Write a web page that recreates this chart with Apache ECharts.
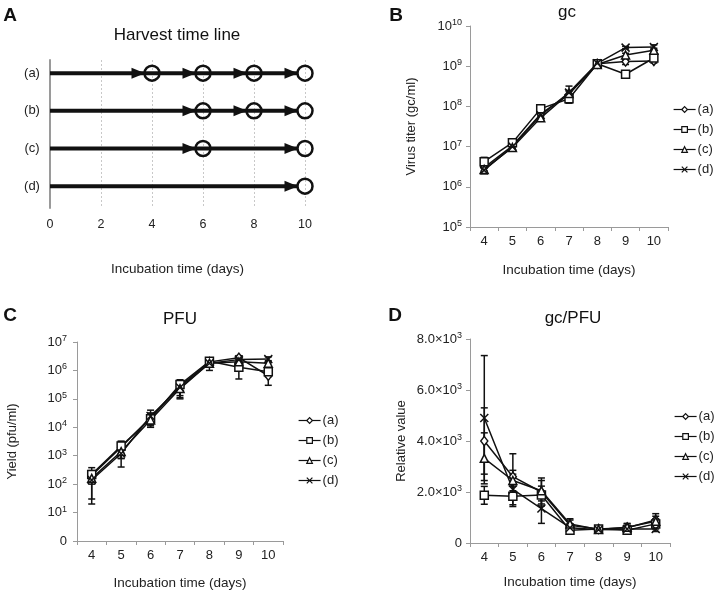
<!DOCTYPE html>
<html>
<head>
<meta charset="utf-8">
<script src="https://cdn.jsdelivr.net/npm/echarts@6/dist/echarts.min.js"></script>
<style>
html,body{margin:0;padding:0;background:#fff;}
#chart{width:720px;height:593px;}
</style>
</head>
<body>
<div id="chart"></div>
<script>
// ---------- DATA ----------
const days = ['4', '5', '6', '7', '8', '9', '10'];
const seriesNames = ['(a)', '(b)', '(c)', '(d)'];

// Panel A: harvest days per schedule
const harvestRowLabels = ['(a)', '(b)', '(c)', '(d)'];
const harvestA = [4, 6, 8, 10];
const harvestB = [6, 8, 10];
const harvestC = [6, 10];
const harvestD = [10];

// Panel B: gc (gc/ml)
const gcA = [3.0e6, 1.05e7, 6.5e7, 2.0e8, 1.15e9, 1.3e9, 1.35e9];
const gcB = [4.2e6, 1.25e7, 8.8e7, 1.55e8, 1.15e9, 6.3e8, 1.6e9];
const gcC = [2.7e6, 9.5e6, 5.2e7, 2.1e8, 1.1e9, 1.9e9, 2.5e9];
const gcD = [2.6e6, 1.0e7, 6.0e7, 2.2e8, 1.18e9, 2.9e9, 3.0e9];
const gcErrA = [0.5e6, 1.5e6, 1.0e7, 0.5e8, 1.0e8, 2.0e8, 1.5e8];
const gcErrB = [1.2e6, 1.5e6, 1.0e7, 0.3e8, 1.0e8, 1.0e8, 2.0e8];
const gcErrC = [0.5e6, 1.0e6, 0.8e7, 0.3e8, 1.0e8, 2.0e8, 3.0e8];
const gcErrD = [0.5e6, 1.0e6, 0.8e7, 1.0e8, 1.0e8, 2.0e8, 4.0e8];

// Panel C: PFU (pfu/ml)
const pfuA = [2.0e2, 2.0e3, 2.2e4, 2.8e5, 2.0e6, 2.8e6, 6.5e5];
const pfuB = [2.2e2, 2.2e3, 2.0e4, 3.2e5, 2.1e6, 1.3e6, 9.0e5];
const pfuC = [1.6e2, 1.4e3, 1.8e4, 2.3e5, 1.8e6, 2.0e6, 1.8e6];
const pfuD = [1.4e2, 1.2e3, 2.5e4, 2.5e5, 1.8e6, 2.4e6, 2.5e6];
const pfuErrA = [1.8e2, 1.2e3, 1.0e4, 1.5e5, 6e5, 5e5, 3.5e5];
const pfuErrB = [0.8e2, 1.0e3, 0.8e4, 1.5e5, 5e5, 8e5, 3e5];
const pfuErrC = [0.6e2, 0.6e3, 0.8e4, 1.2e5, 8e5, 5e5, 4e5];
const pfuErrD = [1.1e2, 0.8e3, 1.5e4, 1.5e5, 5e5, 5e5, 5e5];

// Panel D: gc/PFU relative value
const ratioA = [4000, 2600, 2000, 700, 550, 600, 900];
const ratioB = [1870, 1830, 1880, 500, 550, 500, 750];
const ratioC = [3320, 2450, 2050, 750, 530, 620, 850];
const ratioD = [4900, 2100, 1350, 600, 520, 550, 550];
const ratioErrA = [1300, 900, 550, 200, 100, 150, 250];
const ratioErrB = [350, 400, 350, 100, 80, 100, 200];
const ratioErrC = [1000, 400, 400, 200, 100, 150, 200];
const ratioErrD = [2450, 600, 580, 150, 100, 100, 100];

// ---------- BUILD ----------
const FONT = "'Liberation Sans', Arial, Helvetica, sans-serif";
const TXT = '#222';
const AXC = '#9a9a9a';
const harvest = [harvestA, harvestB, harvestC, harvestD];
const symbols = [
  'diamond', 'rect', 'triangle',
  'path://M0,0L10,10M10,0L0,10'
];
const symSizes = [[7, 9], 8, 8, 8];

function supLabel(base, exp) {
  return '{b|' + base + '}{s|' + exp + '}';
}
const richSup = {
  b: { fontSize: 13, fontFamily: FONT, color: TXT },
  s: { fontSize: 9, fontFamily: FONT, color: TXT, verticalAlign: 'top', padding: [0, 0, 7, 0] }
};

function lineSeries(values, gi) {
  return values.map((v, k) => ({
    type: 'line', name: seriesNames[k],
    xAxisIndex: gi, yAxisIndex: gi,
    data: v,
    symbol: symbols[k], symbolSize: symSizes[k],
    showAllSymbol: true,
    lineStyle: { color: '#111', width: 1.5 },
    itemStyle: { color: '#fff', borderColor: '#111', borderWidth: 1.5 },
    z: 3
  }));
}
function errSeries(values, errs, gi, floor) {
  const data = [];
  values.forEach((v, k) => {
    v.forEach((val, i) => {
      let lo = val - errs[k][i];
      if (lo <= floor) lo = floor * 1.0001;
      data.push([i, lo, val + errs[k][i]]);
    });
  });
  return {
    type: 'custom', xAxisIndex: gi, yAxisIndex: gi,
    data: data, encode: { x: 0, y: [1, 2] }, z: 2, silent: true,
    renderItem: function (params, api) {
      const x = api.value(0);
      const p1 = api.coord([x, api.value(1)]);
      const p2 = api.coord([x, api.value(2)]);
      const w = 3.5;
      const st = { stroke: '#111', lineWidth: 1.5 };
      return {
        type: 'group', children: [
          { type: 'line', shape: { x1: p1[0], y1: p1[1], x2: p2[0], y2: p2[1] }, style: st },
          { type: 'line', shape: { x1: p1[0] - w, y1: p1[1], x2: p1[0] + w, y2: p1[1] }, style: st },
          { type: 'line', shape: { x1: p2[0] - w, y1: p2[1], x2: p2[0] + w, y2: p2[1] }, style: st }
        ]
      };
    }
  };
}

function catXAxis(gi, gap) {
  return {
    type: 'category', gridIndex: gi, data: days, boundaryGap: true,
    axisLine: { lineStyle: { color: AXC, width: 1 } },
    axisTick: { show: true, alignWithLabel: false, length: 4, lineStyle: { color: AXC } },
    axisLabel: { color: TXT, fontSize: 13, fontFamily: FONT, margin: 8 },
    name: 'Incubation time (days)', nameLocation: 'middle', nameGap: gap,
    nameTextStyle: { color: TXT, fontSize: 13.5, fontFamily: FONT },
    splitLine: { show: false }
  };
}

const grids = [
  { left: 50, top: 60, width: 255, height: 148 },
  { left: 470, top: 26, width: 198, height: 201 },
  { left: 77, top: 342, width: 206, height: 199 },
  { left: 470, top: 339, width: 200, height: 204 }
];

const xAxes = [
  {
    type: 'value', gridIndex: 0, min: 0, max: 10, interval: 2,
    axisLine: { show: false }, axisTick: { show: false },
    axisLabel: { color: TXT, fontSize: 12.5, fontFamily: FONT, margin: 10 },
    splitLine: { show: true, lineStyle: { color: '#c8c8c8', type: [2, 2], width: 1 } },
    name: 'Incubation time (days)', nameLocation: 'middle', nameGap: 54,
    nameTextStyle: { color: TXT, fontSize: 13.5, fontFamily: FONT }
  },
  catXAxis(1, 36),
  catXAxis(2, 35),
  catXAxis(3, 32)
];

const yAxes = [
  {
    type: 'value', gridIndex: 0, min: -0.35, max: 3.58, inverse: true,
    axisLine: { show: true, lineStyle: { color: AXC, width: 2 } },
    axisTick: { show: false }, axisLabel: { show: false }, splitLine: { show: false }
  },
  {
    type: 'log', gridIndex: 1, logBase: 10, min: 1e5, max: 1e10,
    axisLine: { show: true, lineStyle: { color: AXC } },
    axisTick: { show: true, length: 4, lineStyle: { color: AXC } },
    splitLine: { show: false },
    axisLabel: {
      margin: 8, rich: richSup,
      formatter: v => supLabel('10', String(Math.round(Math.log10(v))))
    },
    name: 'Virus titer (gc/ml)', nameLocation: 'middle', nameGap: 52, nameRotate: 90,
    nameTextStyle: { color: TXT, fontSize: 13, fontFamily: FONT }
  },
  {
    type: 'log', gridIndex: 2, logBase: 10, min: 1, max: 1e7,
    axisLine: { show: true, lineStyle: { color: AXC } },
    axisTick: { show: true, length: 4, lineStyle: { color: AXC } },
    splitLine: { show: false },
    axisLabel: {
      margin: 10, rich: richSup,
      formatter: v => {
        const e = Math.round(Math.log10(v));
        return e === 0 ? '{b|0}' : supLabel('10', String(e));
      }
    },
    name: 'Yield (pfu/ml)', nameLocation: 'middle', nameGap: 58, nameRotate: 90,
    nameTextStyle: { color: TXT, fontSize: 13, fontFamily: FONT }
  },
  {
    type: 'value', gridIndex: 3, min: 0, max: 8000, interval: 2000,
    axisLine: { show: true, lineStyle: { color: AXC } },
    axisTick: { show: true, length: 4, lineStyle: { color: AXC } },
    splitLine: { show: false },
    axisLabel: {
      margin: 8, rich: richSup,
      formatter: v => v === 0 ? '{b|0}' : supLabel((v / 1000).toFixed(1) + '×10', '3')
    },
    name: 'Relative value', nameLocation: 'middle', nameGap: 62, nameRotate: 90,
    nameTextStyle: { color: TXT, fontSize: 13, fontFamily: FONT }
  }
];

const timelineSeries = {
  type: 'custom', xAxisIndex: 0, yAxisIndex: 0,
  data: harvestRowLabels.map((r, i) => [0, i]),
  encode: { x: 0, y: 1 },
  silent: true,
  renderItem: function (params, api) {
    const row = api.value(1);
    const hd = harvest[row];
    const p0 = api.coord([0, row]);
    const y = p0[1];
    const r = 7.5;
    const children = [];
    const lastX = api.coord([hd[hd.length - 1], row])[0];
    children.push({ type: 'line', shape: { x1: p0[0], y1: y, x2: lastX - r, y2: y },
      style: { stroke: '#111', lineWidth: 4 } });
    hd.forEach(d => {
      const cx = api.coord([d, row])[0];
      children.push({ type: 'polygon',
        shape: { points: [[cx - r + 0.5, y], [cx - r - 13, y - 5.5], [cx - r - 13, y + 5.5]] },
        style: { fill: '#111' } });
      children.push({ type: 'circle', shape: { cx: cx, cy: y, r: r },
        style: { fill: 'none', stroke: '#111', lineWidth: 2.5 } });
    });
    children.push({ type: 'text', x: p0[0] - 18, y: y,
      style: { text: harvestRowLabels[row], fill: TXT, font: '13px ' + FONT,
        textAlign: 'center', textVerticalAlign: 'middle' } });
    return { type: 'group', children: children };
  }
};

const series = [timelineSeries]
  .concat(lineSeries([gcA, gcB, gcC, gcD], 1))
  .concat([errSeries([gcA, gcB, gcC, gcD], [gcErrA, gcErrB, gcErrC, gcErrD], 1, 1e5)])
  .concat(lineSeries([pfuA, pfuB, pfuC, pfuD], 2))
  .concat([errSeries([pfuA, pfuB, pfuC, pfuD], [pfuErrA, pfuErrB, pfuErrC, pfuErrD], 2, 1)])
  .concat(lineSeries([ratioA, ratioB, ratioC, ratioD], 3))
  .concat([errSeries([ratioA, ratioB, ratioC, ratioD], [ratioErrA, ratioErrB, ratioErrC, ratioErrD], 3, 0)]);

function legendAt(left, top) {
  return {
    data: seriesNames, orient: 'vertical', left: left, top: top,
    itemWidth: 22, itemHeight: 7, itemGap: 7, selectedMode: false,
    itemStyle: { borderWidth: 1.2 },
    lineStyle: { width: 1.2 },
    textStyle: { color: TXT, fontSize: 13, fontFamily: FONT, padding: [0, 0, 0, -3] }
  };
}

function txt(x, y, s, size, bold) {
  return { type: 'text', x: x, y: y,
    style: { text: s, fill: '#111', font: (bold ? 'bold ' : '') + size + 'px ' + FONT,
      textAlign: 'center', textVerticalAlign: 'middle' } };
}

const option = {
  animation: false,
  backgroundColor: '#fff',
  grid: grids,
  xAxis: xAxes,
  yAxis: yAxes,
  legend: [legendAt(668, 98), legendAt(293, 409), legendAt(669, 405)],
  series: series,
  graphic: [
    txt(10, 16, 'A', 19, true),
    txt(177, 35, 'Harvest time line', 17, false),
    txt(396, 16, 'B', 19, true),
    txt(567, 12, 'gc', 17, false),
    txt(10, 316, 'C', 19, true),
    txt(180, 319, 'PFU', 17, false),
    txt(395, 316, 'D', 19, true),
    txt(573, 318, 'gc/PFU', 17, false)
  ]
};

const chart = echarts.init(document.getElementById('chart'), null, { renderer: 'canvas' });
chart.setOption(option);
</script>
</body>
</html>
